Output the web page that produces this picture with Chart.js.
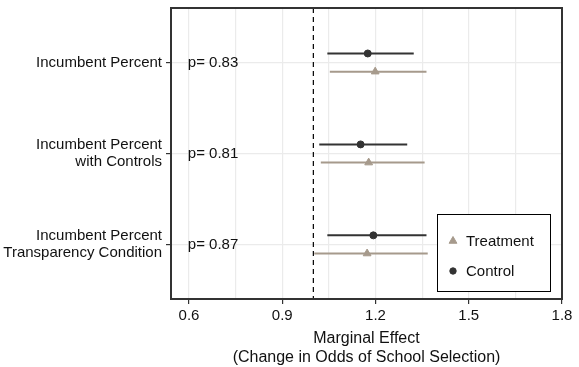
<!DOCTYPE html>
<html>
<head>
<meta charset="utf-8">
<script src="https://cdn.jsdelivr.net/npm/chart.js@4.4.1/dist/chart.umd.min.js"></script>
<style>
  html, body { margin: 0; padding: 0; background: #fff; }
  #wrap { width: 579px; height: 367px; }
</style>
</head>
<body>
<div id="wrap"><canvas id="forest"></canvas></div>
<script>
var categories = [
    'Incumbent Percent',
    ['Incumbent Percent', 'with Controls'],
    ['Incumbent Percent', 'Transparency Condition']
];
var pValues = ['0.83', '0.81', '0.87'];

var controlEst = [1.175, 1.152, 1.193];
var controlLow = [1.045, 1.019, 1.045];
var controlHigh = [1.323, 1.302, 1.364];

var treatEst = [1.199, 1.178, 1.173];
var treatLow = [1.053, 1.024, 1.003];
var treatHigh = [1.364, 1.358, 1.368];

var xTicks = [0.6, 0.75, 0.9, 1.05, 1.2, 1.35, 1.5, 1.65, 1.8];
var xMajor = ['0.6', '0.9', '1.2', '1.5', '1.8'];

var controlColor = '#333333';
var treatColor = '#a69a8c';
var font = '"Liberation Sans", Arial, Helvetica, sans-serif';

var datasets = [];

// reference line at 1
datasets.push({
    label: 'ref',
    data: [{x: 1, y: 0.4}, {x: 1, y: 3.6}],
    showLine: true,
    borderColor: '#000',
    borderWidth: 1.2,
    borderDash: [5, 4],
    pointRadius: 0
});

for (let i = 0; i < categories.length; i++) {
    datasets.push({
        label: 'tci' + i,
        data: [{x: treatLow[i], y: i + 1.1}, {x: treatHigh[i], y: i + 1.1}],
        showLine: true,
        borderColor: treatColor,
        borderWidth: 2,
        pointRadius: 0
    });
    datasets.push({
        label: 'cci' + i,
        data: [{x: controlLow[i], y: i + 0.9}, {x: controlHigh[i], y: i + 0.9}],
        showLine: true,
        borderColor: controlColor,
        borderWidth: 2,
        pointRadius: 0
    });
}

datasets.push({
    label: 'Treatment',
    data: treatEst.map(function (v, i) { return {x: v, y: i + 1.1}; }),
    pointStyle: 'triangle',
    pointRadius: 4.5,
    backgroundColor: treatColor,
    borderColor: treatColor
});
datasets.push({
    label: 'Control',
    data: controlEst.map(function (v, i) { return {x: v, y: i + 0.9}; }),
    pointStyle: 'circle',
    pointRadius: 3.5,
    backgroundColor: controlColor,
    borderColor: controlColor
});

var frame = {
    id: 'frame',
    afterDatasetsDraw: function (chart) {
        var a = chart.chartArea, c = chart.ctx;
        var xs = chart.scales.x, ys = chart.scales.y;
        c.save();
        // p-values
        c.font = '15px ' + font;
        c.fillStyle = '#111';
        c.textAlign = 'left';
        c.textBaseline = 'middle';
        for (let i = 0; i < pValues.length; i++) {
            c.fillText('p= ' + pValues[i], xs.getPixelForValue(0.596), ys.getPixelForValue(i + 1));
        }
        // legend
        var bx = a.right - 125, by = a.bottom - 85, bw = 113, bh = 77;
        c.fillStyle = '#fff';
        c.fillRect(bx, by, bw, bh);
        c.strokeStyle = '#000';
        c.lineWidth = 1;
        c.strokeRect(bx + 0.5, by + 0.5, bw, bh);
        var items = chart.data.datasets.filter(function (d) {
            return d.label === 'Treatment' || d.label === 'Control';
        });
        items.forEach(function (d, k) {
            var cy = by + 27 + k * 30;
            c.fillStyle = d.backgroundColor;
            c.strokeStyle = d.borderColor;
            Chart.helpers.drawPoint(c, {
                pointStyle: d.pointStyle,
                radius: d.pointStyle === 'triangle' ? 4.5 : 3.2,
                borderWidth: 1
            }, bx + 16, cy);
            c.fillStyle = '#111';
            c.font = '15px ' + font;
            c.fillText(d.label, bx + 29, cy + 1);
        });
        // panel border
        c.strokeStyle = '#333';
        c.lineWidth = 2;
        c.strokeRect(a.left, a.top, a.right - a.left, a.bottom - a.top);
        c.restore();
    }
};

new Chart(document.getElementById('forest'), {
    type: 'scatter',
    data: {datasets: datasets},
    options: {
        responsive: true,
        maintainAspectRatio: false,
        animation: false,
        layout: {padding: {top: 8, right: 17, left: 0, bottom: 0}},
        plugins: {legend: {display: false}, tooltip: {enabled: false}},
        scales: {
            x: {
                type: 'linear',
                min: 0.542,
                max: 1.8,
                afterBuildTicks: function (s) {
                    s.ticks = xTicks.map(function (v) { return {value: v}; });
                },
                afterFit: function (s) {
                    s.height = 68;
                    s.paddingLeft = 0;
                    s.paddingRight = 0;
                },
                border: {display: false},
                grid: {
                    color: '#ebebeb',
                    lineWidth: 1.2,
                    tickLength: 5,
                    tickColor: function (ctx) {
                        return xMajor.indexOf(String(ctx.tick.value)) >= 0 ? '#333' : 'rgba(0,0,0,0)';
                    }
                },
                ticks: {
                    color: '#111',
                    padding: 3,
                    maxRotation: 0,
                    autoSkip: false,
                    font: {family: font, size: 15},
                    callback: function (v) {
                        var s = String(v);
                        return xMajor.indexOf(s) >= 0 ? s : '';
                    }
                },
                title: {
                    display: true,
                    text: ['Marginal Effect', '(Change in Odds of School Selection)'],
                    color: '#111',
                    font: {family: font, size: 16, lineHeight: 1.2},
                    padding: {top: 0, bottom: 0}
                }
            },
            y: {
                type: 'linear',
                reverse: true,
                min: 0.4,
                max: 3.6,
                afterBuildTicks: function (s) {
                    s.ticks = categories.map(function (c, i) { return {value: i + 1}; });
                },
                afterFit: function (s) {
                    s.width = 171;
                    s.paddingTop = 0;
                    s.paddingBottom = 0;
                },
                border: {display: false},
                grid: {
                    color: '#ebebeb',
                    lineWidth: 1.2,
                    tickLength: 5,
                    tickColor: '#333'
                },
                ticks: {
                    color: '#111',
                    padding: 4,
                    autoSkip: false,
                    font: {family: font, size: 15, lineHeight: 1.15},
                    callback: function (v) { return categories[Math.round(v) - 1]; }
                }
            }
        }
    },
    plugins: [frame]
});
</script>
</body>
</html>
